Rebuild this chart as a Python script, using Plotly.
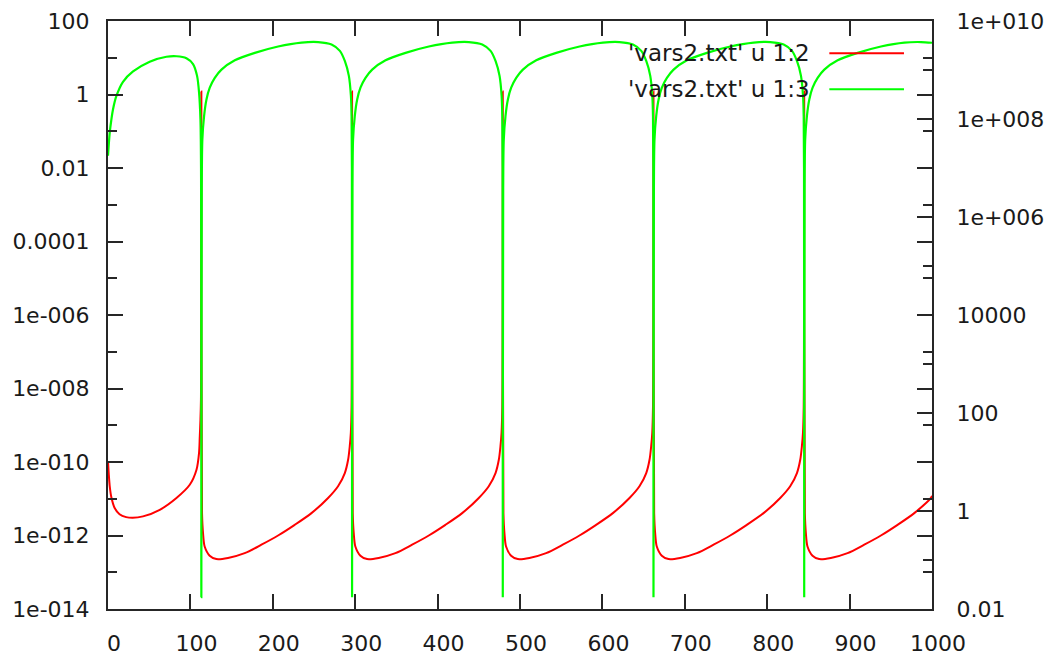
import plotly.graph_objects as go

# ---- data: column 1 vs column 2 of vars2.txt (left log axis) ----
red_x = [
    0.0, 1.0, 2.1, 4.0, 8.1, 14.0, 22.0, 30.0, 42.5, 62.8, 83.1, 99.2, 107.4, 110.5, 111.4, 112.2, 112.8, 113.3,
    114.1, 115.3, 117.3, 123.4, 131.5, 145.6, 165.9, 186.2, 206.4, 226.6, 246.9, 267.1, 279.2, 287.4, 291.4, 293.4, 294.7, 295.6, 296.2,
    297.0, 298.2, 300.2, 306.3, 314.4, 328.5, 348.8, 369.1, 389.3, 409.5, 429.8, 450.0, 462.1, 470.3, 474.3, 476.3, 477.6, 478.5, 479.1,
    479.9, 481.1, 483.1, 489.2, 497.3, 511.4, 531.7, 552.0, 572.2, 592.4, 612.7, 632.9, 645.0, 653.2, 657.2, 659.2, 660.5, 661.4, 662.0,
    662.8, 664.0, 666.0, 672.1, 680.2, 694.3, 714.6, 734.9, 755.1, 775.3, 795.6, 815.8, 827.9, 836.1, 840.1, 842.1, 843.4, 844.3, 844.9,
    845.7, 846.9, 848.9, 855.0, 863.1, 877.2, 897.5, 917.8, 938.0, 958.2, 978.5, 998.7, 1000.0,
]
red_y = [
    1.05e-10, 4.47e-11, 2.19e-11, 1.12e-11, 5.62e-12, 3.80e-12, 3.16e-12, 3.02e-12, 3.31e-12, 5.01e-12, 1.05e-11, 2.40e-11, 6.17e-11, 1.78e-10, 5.01e-10, 1.41e-9, 5.01e-9, 1.2,
    4.07e-12, 1.17e-12, 5.01e-13, 2.82e-13, 2.29e-13, 2.45e-13, 3.31e-13, 5.62e-13, 1.00e-12, 1.95e-12, 4.07e-12, 1.05e-11, 2.19e-11, 5.01e-11, 1.15e-10, 2.69e-10, 6.17e-10, 3.16e-9, 1.2,
    4.07e-12, 1.17e-12, 5.01e-13, 2.82e-13, 2.29e-13, 2.45e-13, 3.31e-13, 5.62e-13, 1.00e-12, 1.95e-12, 4.07e-12, 1.05e-11, 2.19e-11, 5.01e-11, 1.15e-10, 2.69e-10, 6.17e-10, 3.16e-9, 1.2,
    4.07e-12, 1.17e-12, 5.01e-13, 2.82e-13, 2.29e-13, 2.45e-13, 3.31e-13, 5.62e-13, 1.00e-12, 1.95e-12, 4.07e-12, 1.05e-11, 2.19e-11, 5.01e-11, 1.15e-10, 2.69e-10, 6.17e-10, 3.16e-9, 1.2,
    4.07e-12, 1.17e-12, 5.01e-13, 2.82e-13, 2.29e-13, 2.45e-13, 3.31e-13, 5.62e-13, 1.00e-12, 1.95e-12, 4.07e-12, 1.05e-11, 2.19e-11, 5.01e-11, 1.15e-10, 2.69e-10, 6.17e-10, 3.16e-9, 1.2,
    4.07e-12, 1.17e-12, 5.01e-13, 2.82e-13, 2.29e-13, 2.45e-13, 3.31e-13, 5.62e-13, 1.00e-12, 1.95e-12, 4.07e-12, 1.05e-11, 1.2e-11,
]

# ---- data: column 1 vs column 3 of vars2.txt (right log axis) ----
green_x = [
    0.0, 2.1, 4.1, 6.1, 10.2, 18.2, 30.4, 50.6, 70.9, 83.1, 95.2, 103.2, 108.1, 110.5, 112.2, 112.9, 113.3,
    113.8, 114.5, 116.6, 119.5, 123.5, 129.6, 137.7, 153.9, 178.2, 206.5, 234.9, 255.0, 271.3, 281.4, 287.5, 292.3, 294.8, 295.6, 296.0, 296.2,
    296.7, 297.4, 299.5, 302.4, 306.4, 312.5, 320.6, 336.8, 361.1, 389.4, 417.8, 437.9, 454.2, 464.3, 470.4, 475.2, 477.7, 478.5, 478.9, 479.1,
    479.6, 480.3, 482.4, 485.3, 489.3, 495.4, 503.5, 519.7, 544.0, 572.3, 600.7, 620.8, 637.1, 647.2, 653.3, 658.1, 660.6, 661.4, 661.8, 662.0,
    662.5, 663.2, 665.3, 668.2, 672.2, 678.3, 686.4, 702.6, 726.9, 755.2, 783.6, 803.7, 820.0, 830.1, 836.2, 841.0, 843.5, 844.3, 844.7, 844.9,
    845.4, 846.1, 848.2, 851.1, 855.1, 861.2, 869.3, 885.5, 909.8, 938.1, 966.5, 986.6, 1000.0,
]
green_y = [
    1.78e7, 5.25e7, 9.77e7, 1.58e8, 2.95e8, 5.75e8, 9.33e8, 1.48e9, 1.86e9, 1.91e9, 1.74e9, 1.32e9, 7.59e8, 3.47e8, 9.77e7, 1.0e7, 0.0174,
    3.98e6, 3.80e7, 1.15e8, 2.51e8, 4.37e8, 6.92e8, 1.02e9, 1.58e9, 2.24e9, 3.02e9, 3.63e9, 3.72e9, 3.31e9, 2.45e9, 1.51e9, 7.59e8, 2.95e8, 1.15e8, 1.0e7, 0.0174,
    3.98e6, 3.80e7, 1.15e8, 2.51e8, 4.37e8, 6.92e8, 1.02e9, 1.58e9, 2.24e9, 3.02e9, 3.63e9, 3.72e9, 3.31e9, 2.45e9, 1.51e9, 7.59e8, 2.95e8, 1.15e8, 1.0e7, 0.0174,
    3.98e6, 3.80e7, 1.15e8, 2.51e8, 4.37e8, 6.92e8, 1.02e9, 1.58e9, 2.24e9, 3.02e9, 3.63e9, 3.72e9, 3.31e9, 2.45e9, 1.51e9, 7.59e8, 2.95e8, 1.15e8, 1.0e7, 0.0174,
    3.98e6, 3.80e7, 1.15e8, 2.51e8, 4.37e8, 6.92e8, 1.02e9, 1.58e9, 2.24e9, 3.02e9, 3.63e9, 3.72e9, 3.31e9, 2.45e9, 1.51e9, 7.59e8, 2.95e8, 1.15e8, 1.0e7, 0.0174,
    3.98e6, 3.80e7, 1.15e8, 2.51e8, 4.37e8, 6.92e8, 1.02e9, 1.58e9, 2.24e9, 3.02e9, 3.63e9, 3.72e9, 3.6e9,
]

series_names = ["'vars2.txt' u 1:2", "'vars2.txt' u 1:3"]
series_colors = ["#ff0000", "#00ff00"]

# ---- axis ticks ----
x_ticks = [0, 100, 200, 300, 400, 500, 600, 700, 800, 900, 1000]
y1_ticks = [1e-14, 1e-12, 1e-10, 1e-8, 1e-6, 1e-4, 1e-2, 1, 100]
y1_labels = ["1e-014", "1e-012", "1e-010", "1e-008", "1e-006", "0.0001", "0.01", "1", "100"]
y1_minor = [1e-13, 1e-11, 1e-9, 1e-7, 1e-5, 1e-3, 1e-1, 10]
y2_ticks = [1e-2, 1, 100, 1e4, 1e6, 1e8, 1e10]
y2_labels = ["0.01", "1", "100", "10000", "1e+006", "1e+008", "1e+010"]
y2_minor = [1e-1, 10, 1e3, 1e5, 1e7, 1e9]

FONT = dict(family="DejaVu Sans", size=22, color="#1a1a1a")
KEY_FONT = dict(family="DejaVu Sans", size=23, color="#1a1a1a")
INK = "#262626"

fig = go.Figure()
fig.add_trace(go.Scatter(x=red_x, y=red_y, mode="lines", name=series_names[0],
                         line=dict(color=series_colors[0], width=2, shape="spline", smoothing=0.8),
                         yaxis="y"))
fig.add_trace(go.Scatter(x=green_x, y=green_y, mode="lines", name=series_names[1],
                         line=dict(color=series_colors[1], width=2.2, shape="spline", smoothing=0.8),
                         yaxis="y2"))

axis_common = dict(showline=True, linecolor=INK, linewidth=2, ticks="inside", ticklen=15,
                   tickwidth=1.5, tickcolor=INK, showgrid=False, zeroline=False, tickfont=FONT,
                   automargin=False)
minor_common = dict(ticks="inside", ticklen=9, tickwidth=1.5, tickcolor=INK, showgrid=False)

fig.update_layout(
    width=1047, height=659,
    margin=dict(l=108, r=115, t=21, b=50, autoexpand=False),
    paper_bgcolor="white", plot_bgcolor="white",
    showlegend=False,
    xaxis=dict(range=[0, 1000], tickmode="array", tickvals=x_ticks, mirror="ticks",
               ticklabelshift=6, ticklabelstandoff=14, **axis_common),
    yaxis=dict(type="log", range=[-14, 2], tickmode="array", tickvals=y1_ticks, ticktext=y1_labels,
               mirror="ticks", ticklabelstandoff=12,
               minor=dict(tickmode="array", tickvals=y1_minor, **minor_common), **axis_common),
    yaxis2=dict(type="log", range=[-2, 10], overlaying="y", side="right", tickmode="array",
                tickvals=y2_ticks, ticktext=y2_labels, ticklabelstandoff=18,
                minor=dict(tickmode="array", tickvals=y2_minor, **minor_common), **axis_common),
)

# key: text right-justified, line sample to its right
key_rows = [0.945, 0.884]
for name, color, ky in zip(series_names, series_colors, key_rows):
    fig.add_annotation(x=0.8544, y=ky, xref="paper", yref="paper", text=name, showarrow=False,
                       xanchor="right", yanchor="middle", font=KEY_FONT)
    fig.add_shape(type="line", xref="paper", yref="paper", x0=0.8754, x1=0.966, y0=ky, y1=ky,
                  line=dict(color=color, width=2))

fig.write_html("out.html")
